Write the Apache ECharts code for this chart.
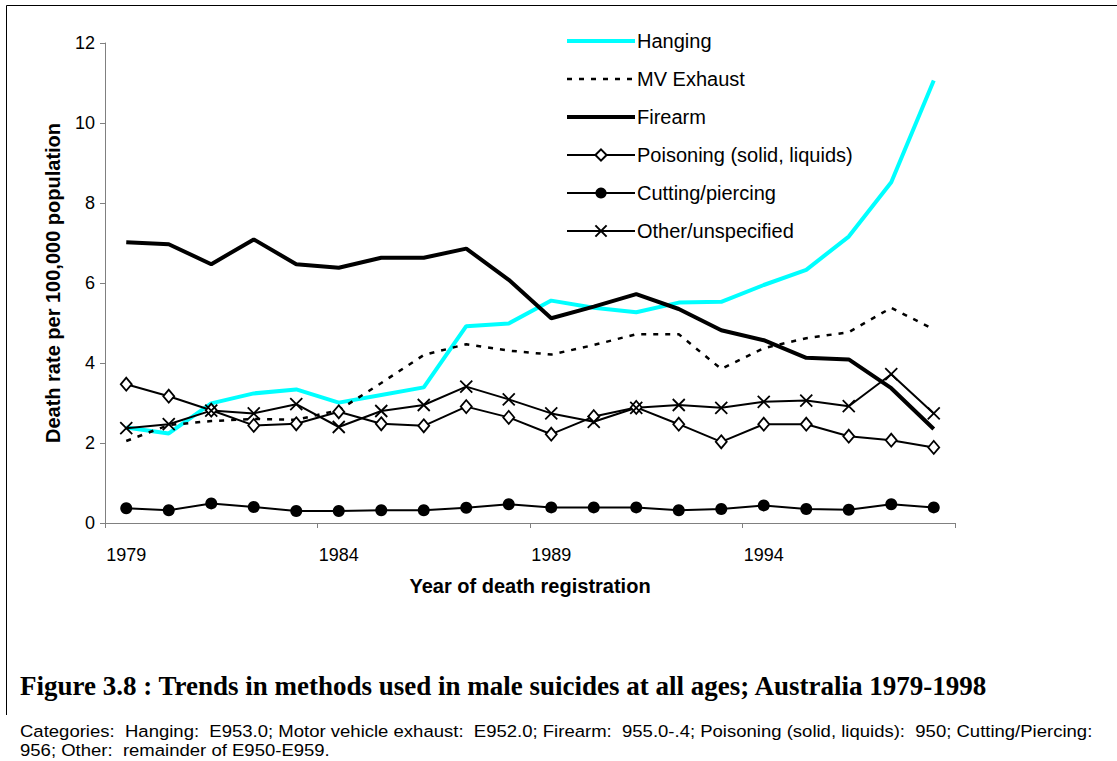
<!DOCTYPE html>
<html>
<head>
<meta charset="utf-8">
<script src="https://cdn.jsdelivr.net/npm/echarts@6/dist/echarts.min.js"></script>
<style>
html,body{margin:0;padding:0;background:#fff;}
#chart{width:1117px;height:761px;}
</style>
</head>
<body>
<div id="chart"></div>
<script>
const years = ['1979','1980','1981','1982','1983','1984','1985','1986','1987','1988','1989','1990','1991','1992','1993','1994','1995','1996','1997','1998'];
const hanging = [2.39, 2.24, 2.99, 3.24, 3.34, 3.01, 3.2, 3.39, 4.92, 4.99, 5.56, 5.38, 5.27, 5.51, 5.53, 5.95, 6.33, 7.16, 8.52, 11.06];
const mvExhaust = [2.05, 2.45, 2.55, 2.6, 2.58, 2.82, 3.5, 4.2, 4.47, 4.31, 4.21, 4.45, 4.72, 4.72, 3.85, 4.37, 4.62, 4.77, 5.38, 4.84];
const firearm = [7.02, 6.97, 6.47, 7.09, 6.47, 6.38, 6.63, 6.63, 6.86, 6.08, 5.12, 5.41, 5.72, 5.35, 4.82, 4.57, 4.13, 4.09, 3.37, 2.35];
const poisoning = [3.47, 3.17, 2.82, 2.44, 2.48, 2.78, 2.48, 2.43, 2.91, 2.64, 2.22, 2.66, 2.89, 2.47, 2.03, 2.47, 2.47, 2.17, 2.07, 1.89];
const cutting = [0.37, 0.32, 0.49, 0.40, 0.30, 0.30, 0.32, 0.32, 0.38, 0.47, 0.39, 0.39, 0.39, 0.32, 0.35, 0.44, 0.35, 0.33, 0.47, 0.39];
const other = [2.37, 2.47, 2.81, 2.74, 2.97, 2.40, 2.80, 2.95, 3.41, 3.09, 2.74, 2.53, 2.88, 2.95, 2.88, 3.03, 3.06, 2.92, 3.72, 2.74];

const seriesNames = ['Hanging','MV Exhaust','Firearm','Poisoning (solid, liquids)','Cutting/piercing','Other/unspecified'];
const yAxisTitle = 'Death rate per 100,000 population';
const xAxisTitle = 'Year of death registration';
const figTitle = 'Figure 3.8 : Trends in methods used in male suicides at all ages; Australia 1979-1998';
const captionLines = [
  'Categories:  Hanging:  E953.0; Motor vehicle exhaust:  E952.0; Firearm:  955.0-.4; Poisoning (solid, liquids):  950; Cutting/Piercing:',
  '956; Other:  remainder of E950-E959.'
];

const chart = echarts.init(document.getElementById('chart'), null, {renderer:'svg'});
const sans = 'Arial, "Liberation Sans", sans-serif';
const crossPath = 'path://M0,0L10,10M10,0L0,10';
const noSymbol = {color:'rgba(0,0,0,0)', borderWidth:0, opacity:0};

chart.setOption({
  backgroundColor:'#fff',
  animation:false,
  grid:{left:105, top:43, width:850, height:480, containLabel:false},
  legend:{
    orient:'vertical', left:565, top:31, padding:0,
    itemWidth:68, itemHeight:14, itemGap:18,
    textStyle:{fontFamily:sans, fontSize:20, color:'#000', padding:[0,0,0,-3]},
    data:[
      {name:seriesNames[0], itemStyle:noSymbol, lineStyle:{width:4}},
      {name:seriesNames[1], itemStyle:noSymbol, lineStyle:{width:2.5}},
      {name:seriesNames[2], itemStyle:noSymbol, lineStyle:{width:4}},
      {name:seriesNames[3]},
      {name:seriesNames[4]},
      {name:seriesNames[5]}
    ]
  },
  xAxis:{
    type:'category', data:years, boundaryGap:true,
    name:xAxisTitle, nameLocation:'middle', nameGap:53,
    nameTextStyle:{fontFamily:sans, fontSize:20, fontWeight:'bold', color:'#000'},
    axisLine:{lineStyle:{color:'#808080', width:1}},
    axisTick:{show:true, interval:4, length:5, inside:false, lineStyle:{color:'#808080'}},
    axisLabel:{interval:4, fontFamily:sans, fontSize:18, color:'#000', margin:23}
  },
  yAxis:{
    type:'value', min:0, max:12, interval:2,
    name:yAxisTitle, nameLocation:'middle', nameGap:42,
    nameTextStyle:{fontFamily:sans, fontSize:20, fontWeight:'bold', color:'#000'},
    axisLine:{show:true, lineStyle:{color:'#808080', width:1}},
    axisTick:{show:true, length:5, lineStyle:{color:'#808080'}},
    axisLabel:{fontFamily:sans, fontSize:18, color:'#000', margin:10},
    splitLine:{show:false}
  },
  series:[
    {name:seriesNames[0], type:'line', data:hanging, symbol:'none', color:'#00FFFF',
     lineStyle:{color:'#00FFFF', width:4}},
    {name:seriesNames[1], type:'line', data:mvExhaust, symbol:'none', color:'#000',
     lineStyle:{color:'#000', width:2.5, type:[5,7]}},
    {name:seriesNames[2], type:'line', data:firearm, symbol:'none', color:'#000',
     lineStyle:{color:'#000', width:4}},
    {name:seriesNames[3], type:'line', data:poisoning, symbol:'diamond', symbolSize:[11,13], color:'#000',
     itemStyle:{color:'#fff', borderColor:'#000', borderWidth:1.8},
     lineStyle:{color:'#000', width:2}},
    {name:seriesNames[4], type:'line', data:cutting, symbol:'circle', symbolSize:12, color:'#000',
     itemStyle:{color:'#000'},
     lineStyle:{color:'#000', width:2}},
    {name:seriesNames[5], type:'line', data:other, symbol:crossPath, symbolSize:12, color:'#000',
     itemStyle:{color:'none', borderColor:'#000', borderWidth:1.8},
     lineStyle:{color:'#000', width:2}}
  ],
  graphic:[
    {type:'line', shape:{x1:6.5, y1:5.5, x2:1117, y2:5.5}, style:{stroke:'#000', lineWidth:1}},
    {type:'line', shape:{x1:6.5, y1:5.5, x2:6.5, y2:715}, style:{stroke:'#000', lineWidth:1}},
    {type:'text', x:20, y:686, style:{text:figTitle, font:'bold 27px "Liberation Serif", "Times New Roman", serif', fill:'#000', verticalAlign:'middle'}},
    {type:'text', x:20, y:731, scaleX:1.09, style:{text:captionLines[0], font:'17px '+sans, fill:'#000', verticalAlign:'middle'}},
    {type:'text', x:20, y:750, scaleX:1.09, style:{text:captionLines[1], font:'17px '+sans, fill:'#000', verticalAlign:'middle'}}
  ]
});
</script>
</body>
</html>
